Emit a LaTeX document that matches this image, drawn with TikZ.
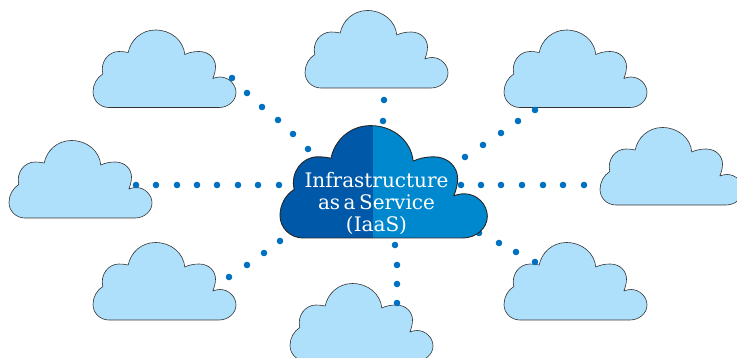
\documentclass[tikz,border=0pt]{standalone}
\usepackage{fontspec}
\newfontfamily\cloudfont[WordSpace=0.55]{DejaVu Serif}
\definecolor{cloudpale}{RGB}{174,224,251}
\definecolor{clouddark}{RGB}{0,88,168}
\definecolor{cloudmid}{RGB}{0,136,206}
\definecolor{dotblue}{RGB}{0,112,192}
\newcommand{\cloudoutline}{(16,0) .. controls (7,0) and (0,-7) .. (0,-15.5) .. controls (0,-23) and (4,-30) .. (9.8,-33.5)
	.. controls (7,-45) and (15,-56) .. (26,-56) .. controls (29,-56) and (32,-55.7) .. (35.2,-55)
	.. controls (37.5,-67) and (48,-77.5) .. (62.5,-77.5) .. controls (78,-77.5) and (90.5,-67) .. (91.8,-53)
	.. controls (96,-55) and (101,-56) .. (106,-56) .. controls (116,-56) and (122.5,-49) .. (122.5,-41) .. controls (122.5,-37) and (121.5,-33) .. (119.8,-29)
	.. controls (122,-30) and (125,-30.5) .. (127,-30.5) .. controls (136,-30.5) and (143,-23) .. (143,-15) .. controls (143,-6.5) and (135,0) .. (126,0) -- cycle}
\tikzset{
	smallcloud/.style={draw=black!80,line width=0.6pt,fill=cloudpale},
	netdot/.style={fill=dotblue,draw=none}
}
\begin{document}
\begin{tikzpicture}[line cap=round,line join=round,x=1pt,y=-1pt]
	\path[use as bounding box,clip] (0,0) rectangle (737,358);
	% outer clouds
	\foreach \xa/\ya in {93/107.5,305/88,504/107.5,600/205,9/218,93/320,290/361,504/320}
		\draw[smallcloud,shift={(\xa,\ya)}] \cloudoutline;
	% dotted spokes
	\foreach \xa/\ya in {232/78,247/93,262/107,278/120,293/134,308/149,
		384/100,383/121,
		535/110,518/121,501/133,483/145,465/157,
		461/185,481/185,501/185,522/185,543/185,563/185,584/185,
		479/233,499/243,516/252,535/262,
		136/185,156/185,177/185,197/185,217/185,238/185,258/185,279/185,
		280/241,264/253,247/265,229/277,
		395/245,397/265,397/284,397/303}
		\fill[netdot] (\xa,\ya) circle (3.3);
	% central cloud
	\begin{scope}[shift={(280,238)},scale=1.45]
		\begin{scope}
			\clip \cloudoutline;
			\fill[clouddark] (-2,2) rectangle (64.2,-80);
			\fill[cloudmid] (64.2,2) rectangle (145,-80);
		\end{scope}
		\draw[black!85,line width=0.9pt] \cloudoutline;
	\end{scope}
	\node (iaas) [text=white,align=center,font=\cloudfont\fontsize{20}{22}\selectfont] at (376.5,203) {Infrastructure\\as a Service\\(IaaS)};
\end{tikzpicture}
\end{document}
